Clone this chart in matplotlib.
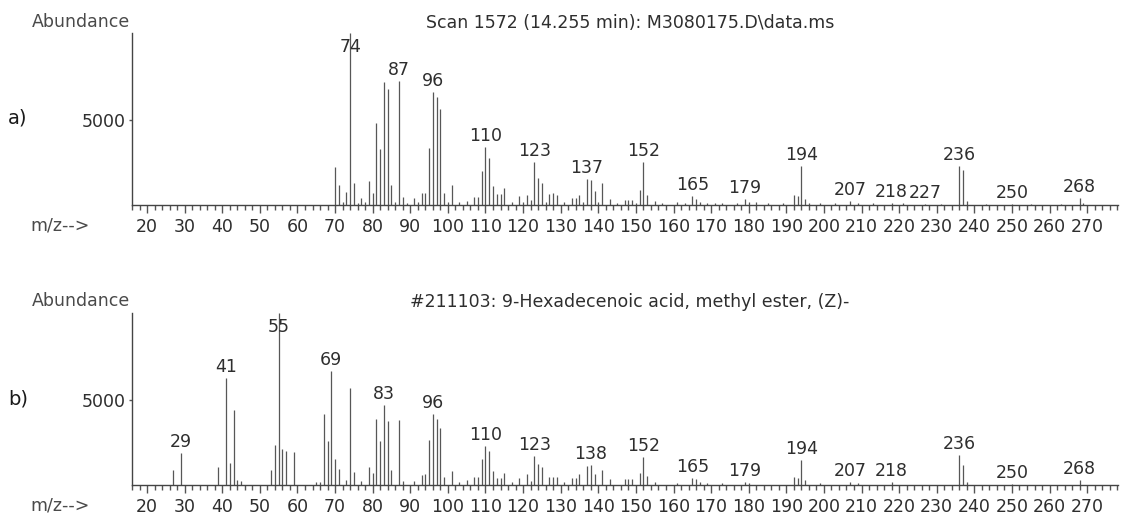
import matplotlib
matplotlib.use("Agg")
import matplotlib.pyplot as plt
from matplotlib.ticker import MultipleLocator, FixedLocator

plt.rcParams['font.family'] = ['DejaVu Sans']

# ---------------- data ----------------
top_mz = [70, 71, 72, 73, 74, 75, 76, 77, 78, 79, 80, 81, 82, 83, 84, 85, 86, 87, 88, 89,
          91, 92, 93, 94, 95, 96, 97, 98, 99, 100, 101, 103, 105, 107, 108, 109, 110, 111, 112, 113,
          114, 115, 117, 119, 120, 121, 122, 123, 124, 125, 126, 127, 128, 129, 131, 133, 134, 135, 136, 137,
          138, 139, 140, 141, 143, 145, 147, 148, 149, 150, 151, 152, 153, 155, 157, 161, 163, 165, 166, 167,
          169, 171, 173, 177, 179, 180, 182, 185, 189, 192, 193, 194, 195, 196, 199, 203, 207, 209, 213, 218,
          221, 227, 231, 236, 237, 238, 243, 250, 255, 263, 268, 269]
top_ab = [2250, 1180, 200, 750, 10100, 1270, 100, 430, 150, 1410, 730, 4800, 3300, 7200, 6800, 1200, 150, 7300, 450, 100,
          400, 200, 700, 700, 3350, 6650, 6350, 5650, 700, 200, 1200, 150, 250, 450, 450, 2000, 3400, 2750, 1100, 650,
          650, 1000, 150, 500, 150, 600, 300, 2500, 1600, 1300, 150, 650, 700, 600, 150, 400, 400, 600, 150, 1500,
          1450, 800, 150, 1300, 350, 100, 300, 300, 300, 100, 900, 2500, 600, 250, 100, 150, 100, 500, 350, 150,
          100, 100, 100, 100, 350, 150, 150, 100, 100, 600, 500, 2300, 350, 100, 100, 100, 250, 100, 100, 100,
          100, 60, 80, 2300, 2050, 250, 80, 60, 80, 80, 400, 100]
top_labels = [74, 87, 96, 110, 123, 137, 152, 165, 179, 194, 207, 218, 227, 236, 250, 268]

bot_mz = [27, 29, 39, 41, 42, 43, 44, 45, 53, 54, 55, 56, 57, 59, 65, 66, 67, 68, 69, 70,
          71, 73, 74, 75, 77, 79, 80, 81, 82, 83, 84, 85, 87, 88, 91, 93, 94, 95, 96, 97,
          98, 99, 101, 103, 105, 107, 108, 109, 110, 111, 112, 113, 114, 115, 117, 119, 121, 122, 123, 124,
          125, 127, 128, 129, 131, 133, 134, 135, 137, 138, 139, 141, 143, 147, 148, 149, 151, 152, 153, 155,
          161, 165, 166, 167, 169, 173, 179, 180, 192, 193, 194, 195, 199, 207, 209, 218, 236, 237, 238, 250,
          268]
bot_ab = [900, 1880, 1070, 6300, 1300, 4400, 300, 250, 870, 2330, 10100, 2130, 1980, 1940, 200, 200, 4170, 2580, 6700, 1550,
          930, 300, 5680, 780, 250, 1030, 680, 3880, 2560, 4710, 3780, 870, 3820, 250, 250, 580, 620, 2620, 4170, 3900,
          3350, 490, 810, 150, 300, 450, 450, 1510, 2270, 2000, 830, 430, 430, 680, 150, 390, 640, 250, 1690, 1220,
          1070, 450, 450, 450, 150, 400, 400, 620, 1130, 1160, 620, 870, 350, 350, 350, 350, 680, 1650, 520, 200,
          100, 390, 380, 150, 100, 100, 200, 100, 480, 390, 1450, 290, 100, 200, 100, 150, 1780, 1160, 200, 80,
          290]
bot_labels = [29, 41, 55, 69, 83, 96, 110, 123, 138, 152, 165, 179, 194, 207, 218, 236, 250, 268]

top_title = "Scan 1572 (14.255 min): M3080175.D\\data.ms"
bot_title = "#211103: 9-Hexadecenoic acid, methyl ester, (Z)-"
panel_tags = ["a)", "b)"]

# ---------------- layout ----------------
W, H = 1121, 515
fig = plt.figure(figsize=(W / 100, H / 100), dpi=100)

def fx(px):
    return px / W

def fy(py):
    return 1 - py / H

TXT = '#2e2e2e'
FS = 12.5
ax_left, ax_right = 132, 1118
panels = [
    dict(top=33, bottom=205, mz=top_mz, ab=top_ab, labels=top_labels, title=top_title,
         tag=panel_tags[0], title_y=23, abund_y=22, tag_y=118, mz_y=226),
    dict(top=313, bottom=485, mz=bot_mz, ab=bot_ab, labels=bot_labels, title=bot_title,
         tag=panel_tags[1], title_y=302, abund_y=301, tag_y=399, mz_y=505),
]

for p in panels:
    ax = fig.add_axes([fx(ax_left), fy(p['bottom']), fx(ax_right - ax_left),
                       (p['bottom'] - p['top']) / H])
    ax.vlines(p['mz'], 0, p['ab'], colors='#575757', linewidth=0.9)
    ab_map = dict(zip(p['mz'], p['ab']))
    for m in p['labels']:
        h = ab_map.get(m, 0)
        y = min(h + 650, 9270)
        ax.text(m, y, str(m), ha='center', va='center', fontsize=FS, color=TXT)

    ax.set_xlim(16.0, 278.2)
    ax.set_ylim(0, 10100)
    for s in ['top', 'right']:
        ax.spines[s].set_visible(False)
    ax.spines['left'].set_color('#444444')
    ax.spines['bottom'].set_color('#444444')
    ax.spines['left'].set_linewidth(1.0)
    ax.spines['bottom'].set_linewidth(1.0)

    ax.xaxis.set_major_locator(FixedLocator(list(range(20, 271, 10))))
    ax.xaxis.set_minor_locator(MultipleLocator(2))
    ax.tick_params(axis='x', which='major', length=6, width=1, color='#555555',
                   labelsize=FS, labelcolor=TXT, pad=3)
    ax.tick_params(axis='x', which='minor', length=3.5, width=1, color='#555555')
    ax.set_yticks([5000])
    ax.set_yticklabels(['5000'])
    ax.tick_params(axis='y', length=2.5, width=1, color='#555555', labelsize=FS,
                   labelcolor=TXT, pad=2)

    fig.text(fx(630), fy(p['title_y']), p['title'], ha='center', va='center',
             fontsize=FS, color=TXT)
    fig.text(fx(130), fy(p['abund_y']), 'Abundance', ha='right', va='center',
             fontsize=FS, color='#4a4a4a')
    fig.text(fx(8), fy(p['tag_y']), p['tag'], ha='left', va='center',
             fontsize=FS + 1.5, color='#1a1a1a')
    fig.text(fx(30), fy(p['mz_y']), 'm/z-->', ha='left', va='center',
             fontsize=FS, color='#4a4a4a')

fig.savefig('out.png', dpi=100, facecolor='white')
